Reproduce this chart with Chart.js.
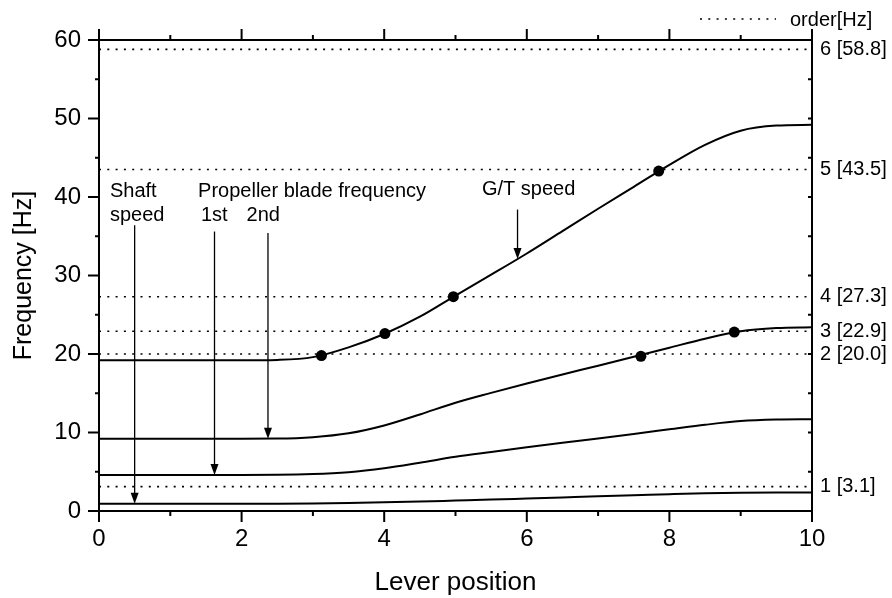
<!DOCTYPE html>
<html>
<head>
<meta charset="utf-8">
<script src="https://cdn.jsdelivr.net/npm/chart.js@4.4.1/dist/chart.umd.min.js"></script>
<style>
  html, body { margin: 0; padding: 0; background: #fff; }
  #wrap { width: 892px; height: 598px; }
</style>
</head>
<body>
<div id="wrap"><canvas id="chart" width="892" height="598"></canvas></div>
<script>
// lever position (x) and the curves
const lever      = [0, 0.5, 1, 1.5, 2, 2.5, 3, 3.5, 4, 4.5, 5, 5.5, 6, 6.5, 7, 7.5, 8, 8.5, 9, 9.5, 10];
const gtSpeed    = [19.2, 19.2, 19.2, 19.2, 19.2, 19.25, 19.6, 20.85, 22.55, 24.75, 27.45, 30.1, 32.8, 35.65, 38.5, 41.3, 44.1, 46.65, 48.45, 49.1, 49.2];
const blade2nd   = [9.2, 9.2, 9.2, 9.2, 9.2, 9.22, 9.4, 9.9, 10.9, 12.3, 13.8, 15.05, 16.25, 17.4, 18.5, 19.65, 20.8, 21.95, 22.9, 23.3, 23.4];
const blade1st   = [4.6, 4.6, 4.6, 4.6, 4.6, 4.61, 4.7, 4.95, 5.45, 6.15, 6.9, 7.52, 8.12, 8.7, 9.25, 9.82, 10.4, 10.98, 11.45, 11.65, 11.7];
const shaftSpeed = [0.93, 0.93, 0.93, 0.93, 0.93, 0.93, 0.95, 1.01, 1.1, 1.21, 1.33, 1.45, 1.59, 1.73, 1.87, 2.0, 2.14, 2.26, 2.33, 2.35, 2.35];

// excitation orders
const orderNames = ['1', '2', '3', '4', '5', '6'];
const orderHz    = [3.1, 20.0, 22.9, 27.3, 43.5, 58.8];

// crossing points (dots)
const crossX = [3.12, 4.01, 4.97, 7.85, 7.60, 8.91];
const crossY = [19.8, 22.6, 27.3, 43.3, 19.7, 22.8];

// axis ticks
const xTicks = [0, 2, 4, 6, 8, 10];
const yTicks = [0, 10, 20, 30, 40, 50, 60];

// arrows: x, start y, tip y
const arrowX    = [0.5, 1.62, 2.37, 5.87];
const arrowFrom = [36.4, 35.6, 35.4, 38.4];
const arrowTo   = [0.93, 4.6, 9.2, 32.1];

const FONT = "'Liberation Sans', Arial, Helvetica, sans-serif";
Chart.defaults.font.family = FONT;
Chart.defaults.color = '#000';

const notes = [
  { text: 'Shaft', x: 0.154, y: 40.05 },
  { text: 'speed', x: 0.154, y: 36.95 },
  { text: 'Propeller blade frequency', x: 1.39, y: 40.05 },
  { text: '1st', x: 1.43, y: 36.95 },
  { text: '2nd', x: 2.07, y: 36.95 },
  { text: 'G/T speed', x: 5.37, y: 40.25 }
];

const pts = ys => lever.map((x, i) => ({ x: x, y: ys[i] }));

const curve = (label, ys) => ({
  label: label,
  data: pts(ys),
  borderColor: '#000',
  borderWidth: 2,
  pointRadius: 0,
  fill: false,
  cubicInterpolationMode: 'monotone'
});

const orderSets = orderHz.map((v, i) => ({
  label: 'order ' + orderNames[i],
  data: [{ x: 0, y: v }, { x: 10, y: v }],
  borderColor: '#000',
  borderWidth: 1.6,
  borderDash: [2, 6.3],
  pointRadius: 0,
  fill: false
}));

// axis ticks (minor + major), arrows, text notes and the legend
const extras = {
  id: 'extras',
  afterDraw(chart) {
    const ctx = chart.ctx;
    const xs = chart.scales.x, ys = chart.scales.y;
    const a = chart.chartArea;
    ctx.save();
    ctx.strokeStyle = '#000';
    ctx.fillStyle = '#000';
    ctx.lineWidth = 2;
    ctx.beginPath();
    for (let v = 0; v <= 10; v++) {
      const px = xs.getPixelForValue(v);
      const len = v % 2 === 0 ? 11 : 5;
      ctx.moveTo(px, a.bottom); ctx.lineTo(px, a.bottom + len);
      ctx.moveTo(px, a.top); ctx.lineTo(px, a.top - len);
    }
    for (let v = 0; v <= 60; v += 5) {
      const py = ys.getPixelForValue(v);
      const len = v % 10 === 0 ? 11 : 4;
      ctx.moveTo(a.left, py); ctx.lineTo(a.left - len, py);
      ctx.moveTo(a.right, py); ctx.lineTo(a.right - 4, py);
    }
    ctx.stroke();

    // arrows
    ctx.lineWidth = 1.3;
    arrowX.forEach((x, i) => {
      const px = xs.getPixelForValue(x);
      const p0 = ys.getPixelForValue(arrowFrom[i]);
      const p1 = ys.getPixelForValue(arrowTo[i]);
      ctx.beginPath();
      ctx.moveTo(px, p0); ctx.lineTo(px, p1 - 8);
      ctx.stroke();
      ctx.beginPath();
      ctx.moveTo(px - 4, p1 - 11); ctx.lineTo(px + 4, p1 - 11); ctx.lineTo(px, p1);
      ctx.closePath();
      ctx.fill();
    });

    // notes
    ctx.font = '20px ' + FONT;
    ctx.textAlign = 'left';
    ctx.textBaseline = 'alphabetic';
    notes.forEach(n => {
      ctx.fillText(n.text, xs.getPixelForValue(n.x), ys.getPixelForValue(n.y));
    });

    // legend
    ctx.lineWidth = 1.6;
    ctx.setLineDash([2, 6.3]);
    ctx.beginPath();
    ctx.moveTo(700, 19); ctx.lineTo(776, 19);
    ctx.stroke();
    ctx.setLineDash([]);
    ctx.textBaseline = 'middle';
    ctx.fillText('order[Hz]', 790, 20);
    ctx.restore();
  }
};

const axisBorder = { display: true, color: '#000', width: 2 };

new Chart(document.getElementById('chart'), {
  type: 'line',
  data: {
    datasets: [
      ...orderSets,
      curve('G/T speed', gtSpeed),
      curve('Propeller blade 2nd', blade2nd),
      curve('Propeller blade 1st', blade1st),
      curve('Shaft speed', shaftSpeed),
      {
        type: 'scatter',
        label: 'crossings',
        data: crossX.map((x, i) => ({ x: x, y: crossY[i] })),
        backgroundColor: '#000',
        borderColor: '#000',
        borderWidth: 0,
        pointRadius: 5.5,
        showLine: false
      }
    ]
  },
  options: {
    responsive: false,
    animation: false,
    layout: { padding: 0 },
    plugins: {
      legend: { display: false },
      tooltip: { enabled: false }
    },
    scales: {
      x: {
        type: 'linear', position: 'bottom', min: 0, max: 10,
        afterBuildTicks: s => { s.ticks = xTicks.map(v => ({ value: v })); },
        afterFit: s => { s.height = 87; },
        ticks: { font: { size: 24 }, color: '#000', padding: 14, maxRotation: 0, autoSkip: false },
        grid: { display: false, drawTicks: false },
        border: axisBorder,
        title: { display: true, text: 'Lever position', font: { size: 26 }, color: '#000', padding: { top: 0, bottom: 0 } }
      },
      x2: {
        type: 'linear', position: 'top', min: 0, max: 10,
        afterFit: s => { s.height = 40; },
        ticks: { display: false },
        grid: { display: false, drawTicks: false },
        border: axisBorder
      },
      y: {
        type: 'linear', position: 'left', min: 0, max: 60,
        afterBuildTicks: s => { s.ticks = yTicks.map(v => ({ value: v })); },
        afterFit: s => { s.width = 99; },
        ticks: { font: { size: 24 }, color: '#000', padding: 18, autoSkip: false },
        grid: { display: false, drawTicks: false },
        border: axisBorder,
        title: { display: true, text: 'Frequency [Hz]', font: { size: 25 }, color: '#000', padding: { top: 9, bottom: 0 } }
      },
      y2: {
        type: 'linear', position: 'right', min: 0, max: 60,
        afterBuildTicks: s => { s.ticks = orderHz.map(v => ({ value: v })); },
        afterFit: s => { s.width = 80; },
        ticks: {
          font: { size: 20 }, color: '#000', padding: 8, autoSkip: false,
          callback: (v, i) => orderNames[i] + ' [' + orderHz[i].toFixed(1) + ']'
        },
        grid: { display: false, drawTicks: false },
        border: axisBorder
      }
    }
  },
  plugins: [extras]
});
</script>
</body>
</html>
